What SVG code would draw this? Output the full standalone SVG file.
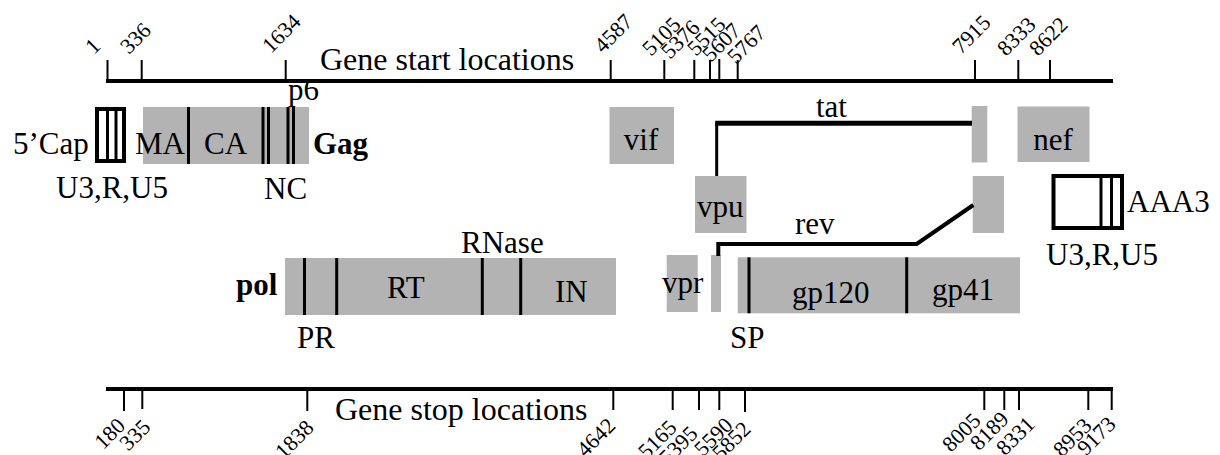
<svg xmlns="http://www.w3.org/2000/svg" width="1220" height="455" viewBox="0 0 1220 455">
<style>
text{font-family:"Liberation Serif","Times New Roman",serif;fill:#000}
.lb{font-size:31px}
.b{font-weight:bold}
.ax{font-size:32px}
.num{font-size:22px}
.gene{fill:#b3b3b3}
.div{stroke:#000;stroke-width:3}
.axis{stroke:#000;stroke-width:4;fill:none}
.tick{stroke:#000;stroke-width:2}
.ltr{fill:#fff;stroke:#000;stroke-width:4}
.conn{fill:none;stroke:#000;stroke-linejoin:miter}
</style>
<rect width="1220" height="455" fill="#fff"/>

<g id="start-axis">
<line class="axis" x1="106" y1="81" x2="1113" y2="81"/>
<g class="tick">
<line x1="107.5" y1="60" x2="107.5" y2="81"/>
<line x1="141.7" y1="60" x2="141.7" y2="81"/>
<line x1="285.7" y1="60" x2="285.7" y2="81"/>
<line x1="610.7" y1="60" x2="610.7" y2="81"/>
<line x1="664.3" y1="60" x2="664.3" y2="81"/>
<line x1="694.3" y1="60" x2="694.3" y2="81"/>
<line x1="710" y1="60" x2="710" y2="81"/>
<line x1="719.3" y1="59" x2="719.3" y2="81"/>
<line x1="737.7" y1="60" x2="737.7" y2="81"/>
<line x1="975" y1="60" x2="975" y2="81"/>
<line x1="1018.3" y1="60" x2="1018.3" y2="81"/>
<line x1="1050" y1="60" x2="1050" y2="81"/>
</g>
<text class="num" transform="translate(94,55) rotate(-45)">1</text>
<text class="num" transform="translate(129,55) rotate(-45)">336</text>
<text class="num" transform="translate(271,54) rotate(-45)">1634</text>
<text class="num" transform="translate(603,54) rotate(-45)">4587</text>
<text class="num" transform="translate(651,57) rotate(-45)">5105</text>
<text class="num" transform="translate(670,60) rotate(-45)">5376</text>
<text class="num" transform="translate(696,57) rotate(-45)">5515</text>
<text class="num" transform="translate(711,63) rotate(-45)">5607</text>
<text class="num" transform="translate(736,65) rotate(-45)">5767</text>
<text class="num" transform="translate(961,55) rotate(-45)">7915</text>
<text class="num" transform="translate(1006,57) rotate(-45)">8333</text>
<text class="num" transform="translate(1038,57) rotate(-45)">8622</text>
<text class="ax" x="320" y="70">Gene start locations</text>
</g>

<g id="stop-axis">
<line class="axis" x1="106" y1="389" x2="1113" y2="389"/>
<g class="tick">
<line x1="124" y1="389" x2="124" y2="411"/>
<line x1="142.3" y1="389" x2="142.3" y2="409"/>
<line x1="307.3" y1="389" x2="307.3" y2="411"/>
<line x1="613.3" y1="389" x2="613.3" y2="410"/>
<line x1="672.7" y1="389" x2="672.7" y2="410"/>
<line x1="699" y1="389" x2="699" y2="410"/>
<line x1="719.3" y1="389" x2="719.3" y2="410"/>
<line x1="745" y1="389" x2="745" y2="412"/>
<line x1="984.3" y1="389" x2="984.3" y2="410"/>
<line x1="1004.3" y1="389" x2="1004.3" y2="410"/>
<line x1="1019" y1="389" x2="1019" y2="410"/>
<line x1="1088.3" y1="389" x2="1088.3" y2="410"/>
<line x1="1111.7" y1="389" x2="1111.7" y2="410"/>
</g>
<g text-anchor="end">
<text class="num" transform="translate(126.5,427) rotate(-45)">180</text>
<text class="num" transform="translate(151.7,428.5) rotate(-45)">335</text>
<text class="num" transform="translate(315,429) rotate(-45)">1838</text>
<text class="num" transform="translate(616.7,427) rotate(-45)">4642</text>
<text class="num" transform="translate(678,429) rotate(-45)">5165</text>
<text class="num" transform="translate(699,435) rotate(-45)">5395</text>
<text class="num" transform="translate(734,426.5) rotate(-45)">5590</text>
<text class="num" transform="translate(752,430.5) rotate(-45)">5852</text>
<text class="num" transform="translate(982,422) rotate(-45)">8005</text>
<text class="num" transform="translate(1010,420.5) rotate(-45)">8189</text>
<text class="num" transform="translate(1036,425.5) rotate(-45)">8331</text>
<text class="num" transform="translate(1093,427) rotate(-45)">8953</text>
<text class="num" transform="translate(1117,425.5) rotate(-45)">9173</text>
</g>
<text class="ax" x="335" y="420">Gene stop locations</text>
</g>

<g id="ltr5">
<rect class="ltr" x="97" y="109" width="27" height="52"/>
<line class="div" x1="107.5" y1="109" x2="107.5" y2="161"/>
<line class="div" x1="116" y1="109" x2="116" y2="161"/>
<text class="lb" x="13" y="154">5’Cap</text>
<text class="lb" x="56" y="198">U3,R,U5</text>
</g>

<g id="gag">
<rect class="gene" x="143" y="107" width="166" height="57"/>
<line class="div" x1="188.5" y1="107" x2="188.5" y2="164"/>
<line class="div" x1="263" y1="107" x2="263" y2="164"/>
<line class="div" x1="268.5" y1="107" x2="268.5" y2="164"/>
<line class="div" x1="288" y1="107" x2="288" y2="164"/>
<line class="div" x1="293.5" y1="107" x2="293.5" y2="164"/>
<text class="lb" x="135" y="154">MA</text>
<text class="lb" x="204" y="154">CA</text>
<text class="lb b" x="313" y="154">Gag</text>
<text class="lb" x="288" y="100">p6</text>
<text class="lb" x="264" y="199">NC</text>
</g>

<g id="pol">
<rect class="gene" x="285" y="258" width="331" height="57"/>
<line class="div" x1="304.5" y1="258" x2="304.5" y2="315"/>
<line class="div" x1="336.7" y1="258" x2="336.7" y2="315"/>
<line class="div" x1="482.3" y1="258" x2="482.3" y2="315"/>
<line class="div" x1="520.7" y1="258" x2="520.7" y2="315"/>
<text class="lb b" x="236" y="295">pol</text>
<text class="lb" x="387" y="298">RT</text>
<text class="lb" x="555" y="302">IN</text>
<text class="lb" x="461" y="253">RNase</text>
<text class="lb" x="297" y="348">PR</text>
</g>

<g id="vif">
<rect class="gene" x="609.5" y="107" width="64.5" height="57"/>
<text class="lb" x="641" y="150" text-anchor="middle">vif</text>
</g>

<g id="vpu">
<rect class="gene" x="695" y="176" width="51.5" height="57"/>
<text class="lb" x="697" y="217">vpu</text>
</g>

<g id="vpr">
<rect class="gene" x="666.7" y="255" width="31" height="57"/>
<text class="lb" x="662" y="293">vpr</text>
</g>

<g id="tat">
<rect class="gene" x="971.7" y="106" width="15.6" height="56.5"/>
<text class="lb" x="816" y="117">tat</text>
</g>

<g id="rev">
<rect class="gene" x="711" y="255" width="10" height="57"/>
<rect class="gene" x="972.7" y="176" width="31.3" height="57"/>
<text class="lb" x="795" y="234">rev</text>
</g>

<g id="env">
<rect class="gene" x="737.7" y="257.3" width="282.3" height="56"/>
<line class="div" x1="749" y1="257.3" x2="749" y2="313.3"/>
<line class="div" x1="906.7" y1="257.3" x2="906.7" y2="313.3"/>
<text class="lb" x="792" y="303">gp120</text>
<text class="lb" x="932" y="300">gp41</text>
<text class="lb" x="730" y="348">SP</text>
</g>

<g id="nef">
<rect class="gene" x="1017.5" y="106.5" width="72" height="55.5"/>
<text class="lb" x="1053" y="150" text-anchor="middle">nef</text>
</g>

<g id="ltr3">
<rect class="ltr" x="1053.5" y="176" width="68.5" height="52"/>
<line class="div" x1="1101" y1="176" x2="1101" y2="228"/>
<line class="div" x1="1111.5" y1="176" x2="1111.5" y2="228"/>
<text class="lb" x="1127" y="212">AAA3</text>
<text class="lb" x="1046" y="265">U3,R,U5</text>
</g>

<g id="connectors">
<path class="conn" stroke-width="3" d="M716.7,176 V123.3"/>
<path class="conn" stroke-width="5" d="M715.2,123.3 H972"/>
<path class="conn" stroke-width="4" d="M718.3,256 V244 H916.7 L973.3,205"/>
</g>
</svg>
